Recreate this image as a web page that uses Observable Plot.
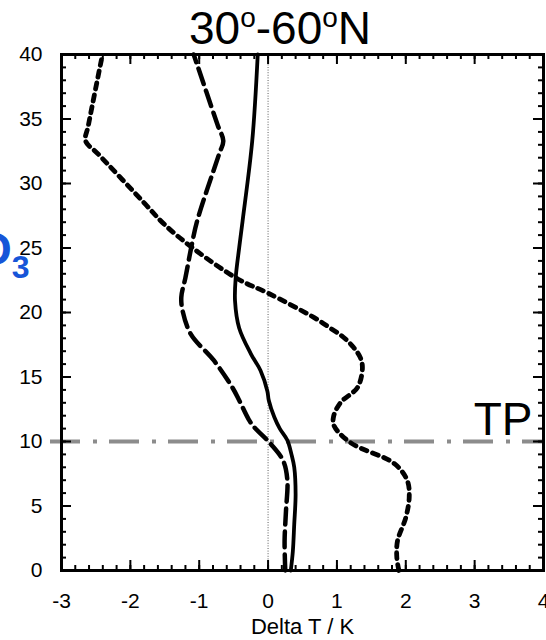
<!DOCTYPE html>
<html><head><meta charset="utf-8">
<script src="https://cdn.jsdelivr.net/npm/d3@7"></script>
<script src="https://cdn.jsdelivr.net/npm/@observablehq/plot@0.6"></script>
<style>html,body{margin:0;padding:0;background:#fff;overflow:hidden}</style>
</head><body><div id="chart"></div>
<script>
// Altitude (km) and temperature change (K)
const solidAlt   = [0, 1.5, 3.6, 5.9, 8.0, 9.0, 10.1, 11.0, 11.9, 13.2, 13.9, 15.5, 16.8, 18.8, 20.9, 22.7, 25.0, 27.1, 33.3, 40];
const solidDT    = [0.33, 0.36, 0.38, 0.40, 0.38, 0.34, 0.28, 0.17, 0.09, 0.01, -0.01, -0.11, -0.25, -0.42, -0.48, -0.47, -0.42, -0.37, -0.23, -0.15];

const dashedAlt  = [0, 2.3, 4.6, 7.0, 8.5, 9.8, 11.1, 11.7, 13.2, 14.2, 16.3, 18.3, 20.1, 21.2, 22.7, 25.2, 27.1, 32.3, 33.3, 34.5, 40];
const dashedDT   = [0.25, 0.24, 0.26, 0.28, 0.22, 0.04, -0.20, -0.28, -0.42, -0.52, -0.79, -1.12, -1.24, -1.26, -1.20, -1.11, -1.03, -0.71, -0.65, -0.73, -1.08];

const dottedAlt  = [0, 1.0, 2.3, 4.1, 5.7, 7.0, 8.3, 9.9, 11.2, 11.9, 13.0, 14.2, 15.7, 16.5, 17.3, 18.1, 18.8, 19.6, 21.5, 22.6, 24.9, 26.8, 28.5, 32.3, 33.3, 34.5, 39.6];
const dottedDT   = [1.90, 1.87, 1.88, 2.00, 2.05, 2.02, 1.83, 1.20, 0.96, 0.95, 1.05, 1.30, 1.37, 1.34, 1.24, 1.09, 0.90, 0.67, 0.00, -0.44, -1.07, -1.50, -1.80, -2.47, -2.65, -2.61, -2.42];

const tpHeight   = [10];
const zeroLine   = [0];
const xTicks      = [-3, -2, -1, 0, 1, 2, 3, 4];
const xTickLabels = ["-3", "-2", "-1", "0", "1", "2", "3", "4"];
const xMinor      = d3.range(-3, 4.001, 0.2).map(v => +v.toFixed(1));
const yTicks      = [0, 5, 10, 15, 20, 25, 30, 35, 40];
const yTickLabels = ["0", "5", "10", "15", "20", "25", "30", "35", "40"];
const yMinor      = d3.range(0, 41, 1);
const titleParts  = ["30", "o", "-60", "o", "N"];
const xLabel      = ["Delta T / K"];
const tpLabel     = ["TP"];
const speciesParts = ["O", "3"];

const toRows = (alt, dt) => alt.map((a, i) => ({alt: a, dt: dt[i]}));
const solid = toRows(solidAlt, solidDT);
const dashed = toRows(dashedAlt, dashedDT);
const dotted = toRows(dottedAlt, dottedDT);

const W = 546, H = 640, mL = 61, mR = 3, mT = 54, mB = 70;
const pw = W - mL - mR, ph = H - mT - mB;
const font = "Liberation Sans, Arial, Helvetica, sans-serif";

const svg = Plot.plot({
  width: W, height: H,
  marginLeft: mL, marginRight: mR, marginTop: mT, marginBottom: mB,
  style: {fontFamily: font, background: "#fff", color: "#000"},
  x: {domain: [-3, 4]},
  y: {domain: [0, 40]},
  marks: [
    Plot.ruleX(zeroLine, {x: d => d, stroke: "#333", strokeWidth: 0.8, strokeDasharray: "1,1.6"}),
    Plot.ruleY(tpHeight, {y: d => d, stroke: "#8c8c8c", strokeWidth: 4, strokeDasharray: "30,13,4,12", insetLeft: -11}),
    Plot.line(solid, {x: "dt", y: "alt", curve: "catmull-rom", stroke: "#000", strokeWidth: 3.8}),
    Plot.line(dashed, {x: "dt", y: "alt", curve: "catmull-rom", stroke: "#000", strokeWidth: 4.5, strokeDasharray: "16,7"}),
    Plot.line(dotted, {x: "dt", y: "alt", curve: "catmull-rom", stroke: "#000", strokeWidth: 4.8, strokeDasharray: "6,6"}),
    // inward ticks on all four sides
    Plot.ruleX(xMinor, {x: d => d, insetTop: ph - 5, stroke: "#000", strokeWidth: 2}),
    Plot.ruleX(xMinor, {x: d => d, insetBottom: ph - 5, stroke: "#000", strokeWidth: 2}),
    Plot.ruleX(xTicks, {x: d => d, insetTop: ph - 10, stroke: "#000", strokeWidth: 2}),
    Plot.ruleX(xTicks, {x: d => d, insetBottom: ph - 10, stroke: "#000", strokeWidth: 2}),
    Plot.ruleY(yMinor, {y: d => d, insetRight: pw - 5, stroke: "#000", strokeWidth: 2}),
    Plot.ruleY(yMinor, {y: d => d, insetLeft: pw - 5, stroke: "#000", strokeWidth: 2}),
    Plot.ruleY(yTicks, {y: d => d, insetRight: pw - 10, stroke: "#000", strokeWidth: 2}),
    Plot.ruleY(yTicks, {y: d => d, insetLeft: pw - 10, stroke: "#000", strokeWidth: 2}),
    Plot.frame({stroke: "#000", strokeWidth: 3}),
    Plot.axisX({anchor: "bottom", ticks: xTicks, tickSize: 0, tickPadding: 23, fontSize: 21, label: null,
      tickFormat: d => xTickLabels[xTicks.indexOf(d)]}),
    Plot.axisY({anchor: "left", ticks: yTicks, tickSize: 0, tickPadding: 19, fontSize: 21, label: null,
      tickFormat: d => yTickLabels[yTicks.indexOf(d)]}),
    Plot.text(tpLabel, {x: 4, y: tpHeight[0], text: d => d, textAnchor: "end", lineAnchor: "bottom",
      dx: -11, dy: -7, fontSize: 46, fill: "#000"}),
    Plot.text(xLabel, {frameAnchor: "bottom", text: d => d, lineAnchor: "bottom", dy: 63, fontSize: 22, fill: "#000"})
  ]
});

const s = d3.select(svg);
s.style("overflow", "hidden");
// title with superscript o
const t = s.append("text").attr("x", 189).attr("y", 44).attr("font-size", 46)
  .attr("text-anchor", "start").attr("font-family", font).attr("fill", "#000");
t.append("tspan").text(titleParts[0]);
t.append("tspan").attr("font-size", 28).attr("dy", -17).text(titleParts[1]);
t.append("tspan").attr("dy", 17).text(titleParts[2]);
t.append("tspan").attr("font-size", 28).attr("dy", -17).text(titleParts[3]);
t.append("tspan").attr("dy", 17).text(titleParts[4]);
// O3 label cut at the left edge
const o = s.append("text").attr("x", -24).attr("y", 265).attr("font-size", 46)
  .attr("text-anchor", "start").attr("font-weight", "bold").attr("font-family", font).attr("fill", "#1655d8");
o.append("tspan").text(speciesParts[0]);
o.append("tspan").attr("font-size", 32).attr("dy", 13).text(speciesParts[1]);

document.getElementById("chart").appendChild(svg);
</script>
</body></html>
